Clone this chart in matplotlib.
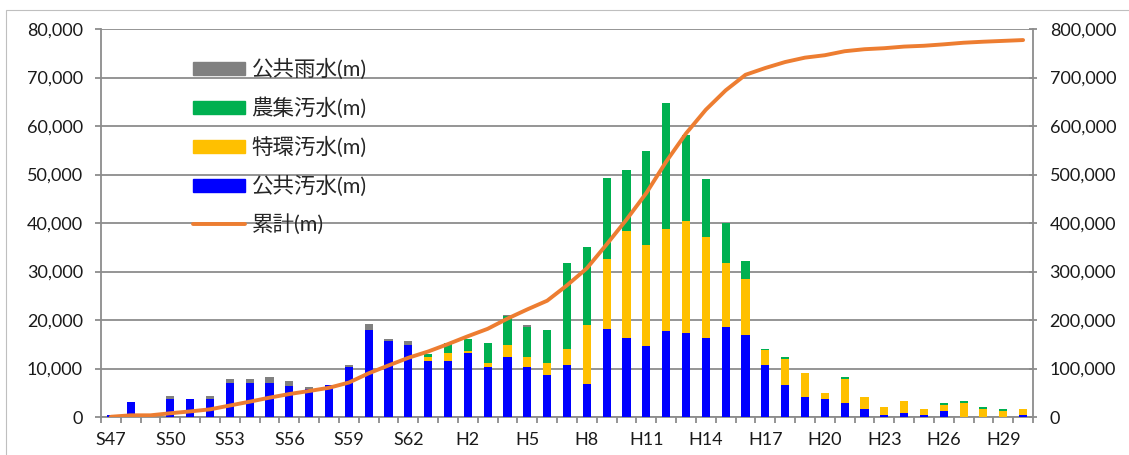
import matplotlib
matplotlib.use("Agg")
import matplotlib.pyplot as plt
import numpy as np
from matplotlib.patches import Patch, Rectangle
from matplotlib.lines import Line2D
from matplotlib.ticker import FuncFormatter, MultipleLocator, FixedLocator

plt.rcParams['font.family'] = ['Lato', 'Noto Sans CJK JP', 'DejaVu Sans']

years = (['S%d' % y for y in range(47, 64)] + ['H%d' % y for y in range(1, 31)])

kokyo_osui = [500, 3000, 0, 3800, 3800, 3800, 7070, 7070, 7070, 6300, 5770, 6650,
              10400, 17900, 15700, 14930, 11600, 11600, 13260, 10280, 12360, 10350, 8610,
              10700, 6720, 18240, 16190, 14540, 17830, 17350, 16190, 18590, 16940,
              10700, 6650, 4150, 3740, 2925, 1700, 480, 880, 480, 1290, 0, 100, 0, 480]
tokkan_osui = [0, 0, 0, 0, 0, 0, 0, 0, 0, 0, 0, 0,
               0, 0, 0, 0, 830, 1660, 420, 900, 2570, 2080, 2570,
               3360, 12280, 14340, 22150, 20990, 20920, 23050, 20980, 13170, 11520,
               3020, 5300, 4900, 1230, 4895, 2450, 1630, 2450, 1220, 1230, 2925, 1600, 1290, 1220]
noshu_osui = [0, 0, 0, 0, 0, 0, 0, 0, 0, 0, 0, 0,
              0, 0, 0, 0, 570, 2020, 2500, 4100, 5900, 6180, 6720,
              17690, 16050, 16800, 12690, 19270, 25930, 17690, 11800, 8160, 3640,
              340, 400, 0, 0, 410, 0, 0, 0, 0, 405, 405, 410, 410, 0]
kokyo_usui = [0, 0, 0, 450, 0, 450, 830, 830, 1230, 1180, 470, 0,
              360, 1200, 480, 830, 0, 0, 0, 0, 300, 350, 0,
              0, 0, 0, 0, 0, 0, 0, 0, 0, 0,
              0, 0, 0, 0, 0, 0, 0, 0, 0, 0, 0, 0, 0, 0]
ruikei = [500, 3500, 3500, 7750, 11550, 15800, 23700, 31600, 39900, 47380, 53620, 60270,
          71030, 90130, 106310, 122070, 135070, 150350, 166530, 181810, 202910, 221870, 239770,
          271520, 306570, 355950, 406980, 461780, 526460, 584550, 633520, 673440, 705540,
          719600, 731900, 740950, 745920, 754150, 758300, 760410, 763740, 765440, 768365,
          771695, 773805, 775505, 777205]

C_BLUE = '#0000FF'
C_YEL = '#FFC000'
C_GRN = '#00B050'
C_GRY = '#808080'
C_ORG = '#ED7D31'
GRID = '#8C8C8C'
TXT = '#1A1A1A'

W, H = 1129, 455
fig = plt.figure(figsize=(W / 100, H / 100), dpi=100)
fig.patches.append(Rectangle((6 / W, -0.05), 1.2, 1 - 10 / H + 0.05, transform=fig.transFigure,
                             fill=False, edgecolor='#BFBFBF', linewidth=0.8))

L, R, T, B = 101, 1033, 29, 417
ax = fig.add_axes([L / W, (H - B) / H, (R - L) / W, (B - T) / H])
ax2 = ax.twinx()

x = np.arange(len(years))
bw = 0.41
b1 = np.array(kokyo_osui, dtype=float)
b2 = b1 + np.array(tokkan_osui)
b3 = b2 + np.array(noshu_osui)
ax.bar(x, kokyo_osui, width=bw, color=C_BLUE, zorder=3)
ax.bar(x, tokkan_osui, width=bw, bottom=b1, color=C_YEL, zorder=3)
ax.bar(x, noshu_osui, width=bw, bottom=b2, color=C_GRN, zorder=3)
ax.bar(x, kokyo_usui, width=bw, bottom=b3, color=C_GRY, zorder=3)

ax2.plot(x, ruikei, color=C_ORG, linewidth=2.8, solid_capstyle='round', zorder=4)

ax.set_xlim(-0.5, len(years) - 0.5)
ax.set_ylim(0, 80000)
ax2.set_ylim(0, 800000)
ax.yaxis.set_major_locator(MultipleLocator(10000))
ax2.yaxis.set_major_locator(MultipleLocator(100000))
fmt = FuncFormatter(lambda v, p: '{:,.0f}'.format(v))
ax.yaxis.set_major_formatter(fmt)
ax2.yaxis.set_major_formatter(fmt)

ax.yaxis.grid(True, color=GRID, linewidth=1.3, zorder=0)
ax.set_axisbelow(True)

ax.set_xticks(x[::3])
ax.set_xticklabels(years[::3])
ax.xaxis.set_minor_locator(FixedLocator(np.arange(-0.5, len(years) + 0.5, 1)))
ax.tick_params(axis='x', which='major', length=0, pad=11, labelsize=13, labelcolor=TXT)
ax.tick_params(axis='x', which='minor', length=4, width=1.3, color=GRID, direction='out')
ax.tick_params(axis='y', length=4, width=1.3, color=GRID, direction='out', pad=9,
               labelsize=13, labelcolor=TXT)
ax2.tick_params(axis='y', length=6, width=1.3, color=GRID, direction='inout', pad=9,
                labelsize=13, labelcolor=TXT)

for a in (ax, ax2):
    a.spines['top'].set_visible(False)
    for s in ('left', 'right', 'bottom'):
        a.spines[s].set_color(GRID)
        a.spines[s].set_linewidth(1.3)
ax.spines['right'].set_visible(False)
ax2.spines['left'].set_visible(False)
ax2.spines['bottom'].set_visible(False)

handles = [Patch(color=C_GRY), Patch(color=C_GRN), Patch(color=C_YEL), Patch(color=C_BLUE),
           Line2D([], [], color=C_ORG, linewidth=2.8, solid_capstyle='round')]
labels = ['公共雨水(m)', '農集汚水(m)', '特環汚水(m)', '公共汚水(m)', '累計(m)']
leg = fig.legend(handles, labels, loc='upper left', bbox_to_anchor=(193 / W, 1 - 59 / H),
                 frameon=False, fontsize=15.5, handlelength=2.42, handleheight=0.56,
                 handletextpad=0.3, labelspacing=0.81, borderpad=0, borderaxespad=0)
for t in leg.get_texts():
    t.set_color('#262626')

fig.savefig('out.png', dpi=100)
